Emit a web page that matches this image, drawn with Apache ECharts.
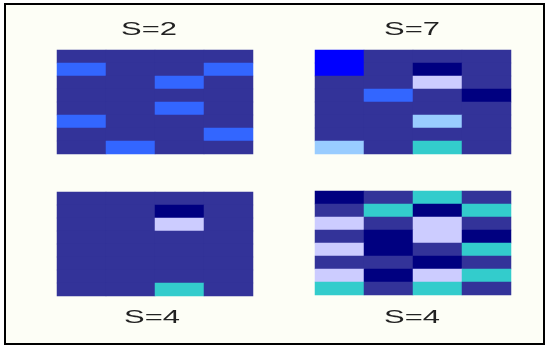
<!DOCTYPE html>
<html>
<head>
<meta charset="utf-8">
<script src="https://cdn.jsdelivr.net/npm/echarts@6/dist/echarts.min.js"></script>
<style>
html,body{margin:0;padding:0;background:#ffffff;}
#c{width:549px;height:350px;}
</style>
</head>
<body>
<div id="c"></div>
<script>
// Column and row categories (4 columns x 8 rows per panel)
const cols = ['1', '2', '3', '4'];
const rows = ['1', '2', '3', '4', '5', '6', '7', '8'];
// Panel titles
const titles = ['S=2', 'S=7', 'S=4', 'S=4'];
// Cell codes, row by row from the top (0 dark, 1 bright blue, 2 blue, 3 navy, 4 lavender, 5 light blue, 6 cyan)
const panelS2 = [
  [0,0,0,0],
  [1,0,0,1],
  [0,0,1,0],
  [0,0,0,0],
  [0,0,1,0],
  [1,0,0,0],
  [0,0,0,1],
  [0,1,0,0]
];
const panelS7 = [
  [2,0,0,0],
  [2,0,3,0],
  [0,0,4,0],
  [0,1,0,3],
  [0,0,0,0],
  [0,0,5,0],
  [0,0,0,0],
  [5,0,6,0]
];
const panelS4a = [
  [0,0,0,0],
  [0,0,3,0],
  [0,0,4,0],
  [0,0,0,0],
  [0,0,0,0],
  [0,0,0,0],
  [0,0,0,0],
  [0,0,6,0]
];
const panelS4b = [
  [3,0,6,0],
  [0,6,3,6],
  [4,0,4,0],
  [0,3,4,3],
  [4,3,0,6],
  [0,0,3,0],
  [4,3,4,6],
  [6,0,6,0]
];
const codeColors = ['#333399', '#3366ff', '#0000ff', '#000080', '#ccccff', '#99ccff', '#33cccc'];

const panels = [panelS2, panelS7, panelS4a, panelS4b];
const gridBoxes = [
  {left: 57, top: 50, width: 196, height: 104},
  {left: 315, top: 50, width: 196, height: 104},
  {left: 57, top: 192, width: 196, height: 104},
  {left: 315, top: 191, width: 196, height: 104}
];
const titlePos = [[149, 30], [412, 30], [152, 318], [412, 318]];

function toData(m) {
  const out = [];
  m.forEach((r, ri) => r.forEach((v, ci) => out.push([ci, ri, v])));
  return out;
}

const grid = [], xAxis = [], yAxis = [], series = [];
panels.forEach((p, i) => {
  grid.push(Object.assign({}, gridBoxes[i]));
  xAxis.push({type: 'category', data: cols, gridIndex: i, show: false});
  yAxis.push({type: 'category', data: rows, gridIndex: i, inverse: true, show: false});
  series.push({
    type: 'heatmap', xAxisIndex: i, yAxisIndex: i, data: toData(p),
    itemStyle: {borderWidth: 0}, emphasis: {disabled: true}
  });
});

const graphic = [
  {type: 'rect', shape: {x: 0, y: 0, width: 549, height: 350}, style: {fill: '#ffffff'}, z: -10},
  {type: 'rect', shape: {x: 5, y: 4, width: 539, height: 340}, style: {fill: '#fdfef6', stroke: '#000000', lineWidth: 2}, z: -5}
];
titles.forEach((t, i) => {
  graphic.push({
    type: 'text', x: titlePos[i][0], y: titlePos[i][1], scaleX: 1.72, scaleY: 1,
    style: {text: t, font: '18px "Liberation Sans", Arial, sans-serif', fill: '#222222', align: 'center', verticalAlign: 'middle'},
    z: 10
  });
});

const chart = echarts.init(document.getElementById('c'));
chart.setOption({
  animation: false,
  backgroundColor: 'transparent',
  grid, xAxis, yAxis, series,
  visualMap: {
    type: 'piecewise', show: false, seriesIndex: [0, 1, 2, 3], dimension: 2,
    pieces: codeColors.map((c, k) => ({value: k, color: c}))
  },
  graphic
});
</script>
</body>
</html>
